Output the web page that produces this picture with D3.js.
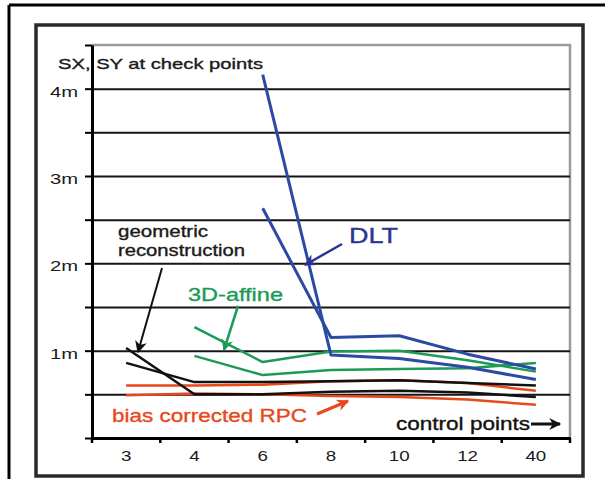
<!DOCTYPE html>
<html>
<head>
<meta charset="utf-8">
<script src="https://cdn.jsdelivr.net/npm/d3@7"></script>
<style>
  html, body { margin: 0; padding: 0; background: #fff; }
  svg { display: block; }
  text { font-family: "Liberation Sans", Arial, sans-serif; }
</style>
</head>
<body>
<svg id="chart" width="605" height="479"></svg>
<script>
// ---------- data ----------
const categories = ["3", "4", "6", "8", "10", "12", "40"];
const yTickValues = [0, 0.5, 1, 1.5, 2, 2.5, 3, 3.5, 4, 4.5];
const yTickLabels = ["", "", "1m", "", "2m", "", "3m", "", "4m", ""];

const dltA = [null, null, 4.16, 0.95, 0.91, 0.81, 0.67];
const dltB = [null, null, 2.63, 1.15, 1.17, 0.96, 0.79];
const affineA = [null, 1.27, 0.87, 0.99, 1.00, 0.89, 0.76];
const affineB = [null, 0.94, 0.72, 0.78, 0.79, 0.80, 0.86];
const geoA = [1.03, 0.50, 0.50, 0.53, 0.54, 0.52, 0.47];
const geoB = [0.86, 0.64, 0.64, 0.65, 0.66, 0.63, 0.60];
const rpcA = [0.60, 0.60, 0.61, 0.65, 0.66, 0.63, 0.54];
const rpcB = [0.49, 0.51, 0.50, 0.48, 0.47, 0.44, 0.38];

// ---------- layout / styles ----------
const svg = d3.select("#chart");
const L = 92, R = 570, T = 45, B = 438;
const COL = { blue: "#2c4aa3", navy: "#2e3392", green: "#1d9a55", red: "#e8481c", black: "#111" };

const x = d3.scaleBand().domain(categories).range([L, R]).padding(0);
const y = d3.scaleLinear().domain([0, 4.5]).range([B, T]);
const cx = c => x(c) + x.bandwidth() / 2;

// outer frame (top + left)
svg.append("line").attr("x1", 9).attr("y1", 5).attr("x2", 605).attr("y2", 5)
  .attr("stroke", "#000").attr("stroke-width", 3);
svg.append("line").attr("x1", 9).attr("y1", 5).attr("x2", 9).attr("y2", 479)
  .attr("stroke", "#000").attr("stroke-width", 3);

// inner frame
svg.append("rect").attr("x", 36).attr("y", 25).attr("width", 547).attr("height", 451)
  .attr("fill", "none").attr("stroke", "#2a2a2a").attr("stroke-width", 3.5);

// plot frame top / right (gray)
svg.append("path")
  .attr("d", `M${L},${T}H${R}V${B}`)
  .attr("fill", "none").attr("stroke", "#9a9a9a").attr("stroke-width", 2.5);

// gridlines
const grid = svg.append("g").attr("transform", `translate(${L},0)`)
  .call(d3.axisLeft(y).tickValues(yTickValues.filter(v => v > 0 && v < 4.5))
    .tickSize(-(R - L)).tickFormat(""));
grid.select(".domain").remove();
grid.selectAll(".tick line").attr("stroke", "#151515").attr("stroke-width", 2);

// data lines
const line = d3.line()
  .defined(d => d != null)
  .x((d, i) => cx(categories[i]))
  .y(d => y(d));

const seriesList = [
  { v: rpcA, c: COL.red, w: 2.5 },
  { v: rpcB, c: COL.red, w: 2.5 },
  { v: geoA, c: COL.black, w: 2.5 },
  { v: geoB, c: COL.black, w: 2.5 },
  { v: affineA, c: COL.green, w: 2.5 },
  { v: affineB, c: COL.green, w: 2.5 },
  { v: dltA, c: COL.blue, w: 3 },
  { v: dltB, c: COL.blue, w: 3 }
];
svg.append("g").selectAll("path").data(seriesList).join("path")
  .attr("d", s => line(s.v))
  .attr("fill", "none")
  .attr("stroke", s => s.c)
  .attr("stroke-width", s => s.w)
  .attr("stroke-linejoin", "round");

// y axis
const yAxis = svg.append("g").attr("transform", `translate(${L},0)`)
  .call(d3.axisLeft(y).tickValues(yTickValues).tickSize(7).tickSizeOuter(0).tickPadding(7)
    .tickFormat((d, i) => yTickLabels[i]));
yAxis.select(".domain").attr("stroke", "#000").attr("stroke-width", 3);
yAxis.selectAll(".tick line").attr("stroke", "#000").attr("stroke-width", 2);
yAxis.selectAll(".tick text")
  .attr("font-size", 15).attr("fill", "#1a1a1a").attr("dy", "0.5em")
  .style("font-family", '"Liberation Sans", Arial, sans-serif');

// x axis
const xAxis = svg.append("g").attr("transform", `translate(0,${B})`)
  .call(d3.axisBottom(x).tickSize(0).tickSizeOuter(0).tickPadding(12));
xAxis.select(".domain").attr("stroke", "#000").attr("stroke-width", 3);
xAxis.selectAll(".tick text")
  .attr("font-size", 15).attr("fill", "#1a1a1a")
  .style("font-family", '"Liberation Sans", Arial, sans-serif');
// boundary ticks between categories
const bounds = categories.map(c => x(c)).concat([x.range()[1]]);
xAxis.selectAll("line.bound").data(bounds).join("line").attr("class", "bound")
  .attr("x1", d => d).attr("x2", d => d).attr("y1", 0).attr("y2", 5)
  .attr("stroke", "#000").attr("stroke-width", 2.5);

// horizontally stretch the short labels (the reference is stretched)
function stretch(sel, k) {
  sel.each(function () {
    const len = this.getComputedTextLength();
    if (len > 0) d3.select(this).attr("textLength", len * k).attr("lengthAdjust", "spacingAndGlyphs");
  });
}
stretch(yAxis.selectAll(".tick text"), 1.35);
stretch(xAxis.selectAll(".tick text"), 1.25);

// ---------- annotations ----------
const defs = svg.append("defs");
function marker(id, color) {
  defs.append("marker").attr("id", id)
    .attr("viewBox", "0 0 10 10").attr("refX", 9).attr("refY", 5)
    .attr("markerWidth", 14).attr("markerHeight", 12)
    .attr("markerUnits", "userSpaceOnUse").attr("orient", "auto")
    .append("path").attr("d", "M0,0L10,5L0,10L3,5Z").attr("fill", color);
}
marker("mBlack", "#111");
marker("mGreen", COL.green);
marker("mNavy", COL.navy);
marker("mRed", COL.red);

function arrow(x1, y1, x2, y2, color, m, w) {
  svg.append("line").attr("x1", x1).attr("y1", y1).attr("x2", x2).attr("y2", y2)
    .attr("stroke", color).attr("stroke-width", w || 2.5).attr("marker-end", `url(#${m})`);
}

function label(txt, x0, y0, size, len, color) {
  svg.append("text").attr("x", x0).attr("y", y0).attr("font-size", size)
    .attr("fill", color).attr("stroke", color).attr("stroke-width", 0.35)
    .attr("textLength", len).attr("lengthAdjust", "spacingAndGlyphs")
    .text(txt);
}

label("SX, SY at check points", 58, 69, 15, 205, "#1a1a1a");
label("geometric", 118, 237, 16, 90, "#1a1a1a");
label("reconstruction", 118, 256, 16, 127, "#1a1a1a");
label("3D-affine", 188, 301, 19, 95, COL.green);
label("DLT", 349, 243, 22, 49, COL.navy);
label("bias corrected RPC", 112, 422, 19, 195, COL.red);
label("control points", 396, 430, 18, 134, "#111");

arrow(162, 268, 138, 352, "#111", "mBlack", 2);
arrow(238, 306, 224, 350, COL.green, "mGreen", 2.5);
arrow(342, 244, 305, 265, COL.navy, "mNavy", 2.5);
arrow(317, 414, 348, 401, COL.red, "mRed", 3);
arrow(531, 424, 560, 424, "#111", "mBlack", 3);
</script>
</body>
</html>
